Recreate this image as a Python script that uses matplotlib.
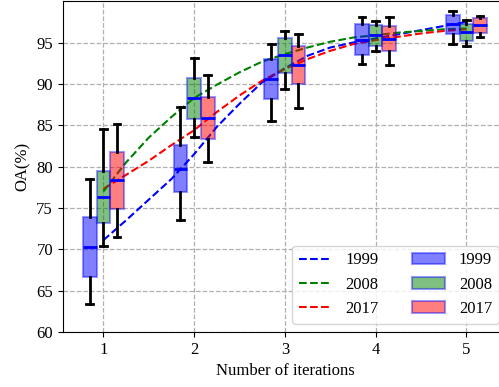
import matplotlib
import matplotlib.pyplot as plt

matplotlib.use("Agg")

plt.rcParams["font.family"] = ["Liberation Serif", "DejaVu Serif"]
plt.rcParams["font.size"] = 12

YEARS = ["1999", "2008", "2017"]
COLORS = ["blue", "green", "red"]
ITERATIONS = [1, 2, 3, 4, 5]
OFFSETS = [-0.15, 0.0, 0.15]

# OA (%) distribution per iteration: whisker ends, quartiles and median
WHISLO = {
    "1999": [63.35, 73.55, 85.47, 92.36, 94.86],
    "2008": [70.36, 83.54, 89.42, 93.97, 94.58],
    "2017": [71.45, 80.52, 87.12, 92.32, 95.70],
}
Q1 = {
    "1999": [66.61, 76.89, 88.21, 93.53, 95.99],
    "2008": [73.14, 85.75, 91.35, 94.62, 95.18],
    "2017": [74.87, 83.30, 89.98, 93.94, 96.15],
}
MEDIAN = {
    "1999": [70.28, 79.75, 90.63, 95.30, 97.20],
    "2008": [76.36, 88.25, 93.49, 95.87, 96.23],
    "2017": [78.34, 85.84, 92.25, 95.46, 97.12],
}
Q3 = {
    "1999": [73.87, 82.57, 93.05, 97.20, 98.33],
    "2008": [79.50, 90.75, 95.51, 97.12, 97.20],
    "2017": [81.80, 88.41, 94.54, 96.96, 97.93],
}
WHISHI = {
    "1999": [78.53, 87.17, 94.78, 98.12, 98.81],
    "2008": [84.51, 93.13, 96.35, 97.64, 97.72],
    "2017": [85.11, 91.07, 96.03, 98.08, 98.17],
}

# fitted trend curves
CURVE_X = [1.0, 1.25, 1.5, 1.75, 2.0, 2.25, 2.5, 2.75, 3.0,
           3.25, 3.5, 3.75, 4.0, 4.25, 4.5, 4.75, 5.0]
CURVE_Y = {
    "1999": [71.1, 73.5, 76.0, 78.5, 81.5, 84.8, 87.6, 90.2, 91.9,
             93.4, 94.4, 95.0, 95.5, 96.0, 96.5, 97.0, 97.5],
    "2008": [77.0, 80.5, 83.5, 86.0, 88.3, 89.9, 91.4, 92.7, 93.6,
             94.4, 95.1, 95.6, 95.9, 96.2, 96.4, 96.6, 96.7],
    "2017": [77.3, 79.0, 80.7, 82.6, 84.4, 86.6, 88.6, 90.4, 91.8,
             93.0, 94.0, 94.8, 95.3, 95.7, 96.1, 96.4, 96.6],
}

fig = plt.figure(figsize=(4.99, 3.87), dpi=100)
ax = fig.add_axes([0.1257, 0.1421, 0.8904, 0.8548])
ax.grid(True, linestyle="--", color="#b0b0b0", linewidth=0.9)
ax.set_axisbelow(True)

line_handles = []
for year, color in zip(YEARS, COLORS):
    (ln,) = ax.plot(CURVE_X, CURVE_Y[year], "--", color=color, linewidth=1.5, label=year)
    line_handles.append(ln)

box_handles = []
for year, color, off in zip(YEARS, COLORS, OFFSETS):
    stats = [
        {
            "whislo": WHISLO[year][i],
            "q1": Q1[year][i],
            "med": MEDIAN[year][i],
            "q3": Q3[year][i],
            "whishi": WHISHI[year][i],
            "fliers": [],
        }
        for i in range(len(ITERATIONS))
    ]
    bp = ax.bxp(
        stats,
        positions=[it + off for it in ITERATIONS],
        widths=0.15,
        patch_artist=True,
        showfliers=False,
        manage_ticks=False,
        boxprops=dict(facecolor=matplotlib.colors.to_rgba(color, 0.5),
                      edgecolor=(0, 0, 1, 0.4), linewidth=1.5),
        medianprops=dict(color="blue", linewidth=2),
        whiskerprops=dict(color="black", linewidth=2),
        capprops=dict(color="black", linewidth=2),
    )
    bp["boxes"][0].set_label(year)
    box_handles.append(bp["boxes"][0])

ax.set_xlim(0.5525, 5.4475)
ax.set_ylim(60, 100)
ax.set_xticks(ITERATIONS)
ax.set_yticks(range(60, 100, 5))
ax.set_xlabel("Number of iterations")
ax.set_ylabel("OA(%)")

ax.legend(line_handles + box_handles, YEARS + YEARS, ncol=2, loc="lower right")

fig.savefig("out.png", dpi=100)
